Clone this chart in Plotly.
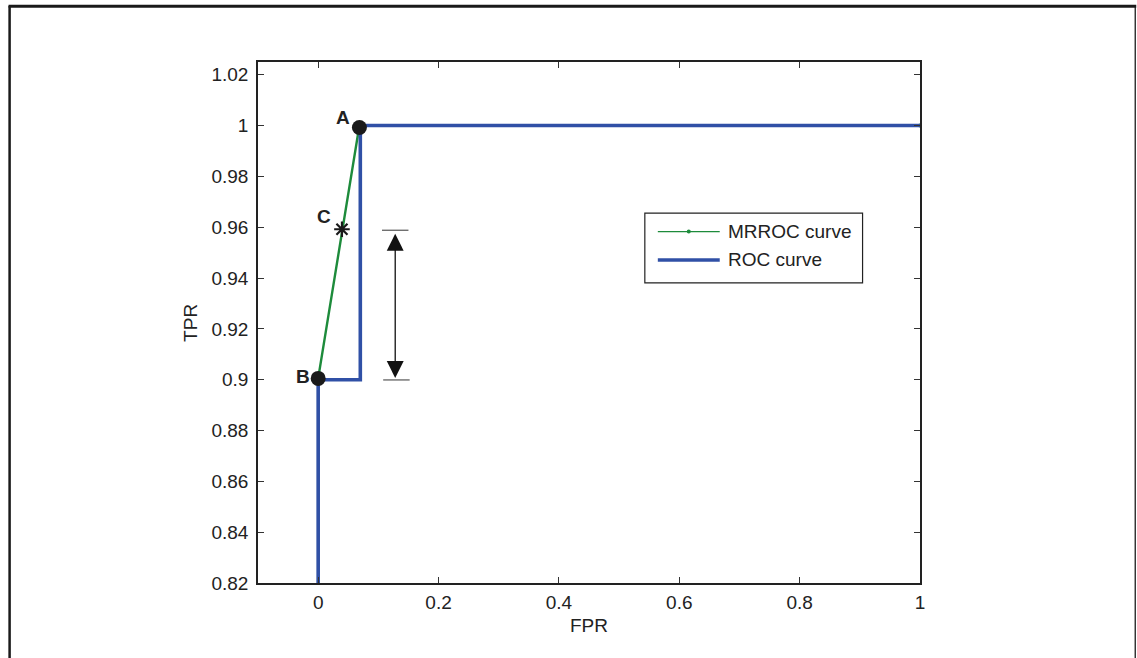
import plotly.graph_objects as go

# ---- data ----
roc_fpr = [0.0, 0.0, 0.07, 0.07, 1.0]
roc_tpr = [0.0, 0.9, 0.9, 1.0, 1.0]

mrroc_fpr = [0.0, 0.0, 0.0685, 1.0]
mrroc_tpr = [0.0, 0.9005, 1.0, 1.0]

point_names = ["A", "B"]
point_fpr = [0.0685, 0.0]
point_tpr = [0.9992, 0.9005]

c_fpr = [0.0395]
c_tpr = [0.9592]

gap_top = 0.9588   # TPR at C
gap_bottom = 0.8999  # TPR at B

x_ticks = [0, 0.2, 0.4, 0.6, 0.8, 1]
x_ticktext = ["0", "0.2", "0.4", "0.6", "0.8", "1"]
y_ticks = [0.82, 0.84, 0.86, 0.88, 0.9, 0.92, 0.94, 0.96, 0.98, 1.0, 1.02]
y_ticktext = ["0.82", "0.84", "0.86", "0.88", "0.9", "0.92", "0.94", "0.96", "0.98", "1", "1.02"]

# ---- layout geometry (pixels) ----
W, H = 1137, 658
PL, PR, PT, PB = 257.7, 920.5, 62.3, 582.7
pw, ph = PR - PL, PB - PT


def px(xp):
    return (xp - PL) / pw


def py(yp):
    return (PB - yp) / ph


FONT = "Liberation Sans, Arial, Helvetica, sans-serif"
TXT = "#222222"
BLUE = "#3050a6"
GREEN = "#1d8b3b"

fig = go.Figure()

fig.add_trace(go.Scatter(
    x=mrroc_fpr, y=mrroc_tpr, mode="lines+markers",
    line=dict(color=GREEN, width=2.4),
    marker=dict(color=GREEN, size=4),
    showlegend=False, hoverinfo="skip",
))
fig.add_trace(go.Scatter(
    x=roc_fpr, y=roc_tpr, mode="lines",
    line=dict(color=BLUE, width=3.6),
    showlegend=False, hoverinfo="skip",
))
fig.add_trace(go.Scatter(
    x=point_fpr, y=point_tpr, mode="markers",
    marker=dict(color="#1a1a1a", size=15),
    showlegend=False, hoverinfo="skip",
))
fig.add_trace(go.Scatter(
    x=c_fpr, y=c_tpr, mode="markers",
    marker=dict(symbol="asterisk-open", color="#1a1a1a", size=13,
                line=dict(color="#1a1a1a", width=2.2)),
    showlegend=False, hoverinfo="skip",
))

annotations = []
# point labels
label_pos = {"A": (0.041, 1.0032), "B": (-0.026, 0.9012), "C": (0.010, 0.9642)}
for name, (lx, ly) in label_pos.items():
    annotations.append(dict(
        x=lx, y=ly, xref="x", yref="y", text="<b>%s</b>" % name,
        showarrow=False, font=dict(family=FONT, size=19, color=TXT),
        xanchor="center", yanchor="middle",
    ))

# double-headed arrow showing the TPR gap
arrow_x = 0.128
annotations.append(dict(
    x=arrow_x, y=gap_bottom, ax=arrow_x, ay=gap_top,
    xref="x", yref="y", axref="x", ayref="y",
    text="", showarrow=True, arrowside="end+start",
    arrowhead=2, startarrowhead=2, arrowsize=2.6, startarrowsize=2.6,
    arrowwidth=1.3, arrowcolor="#111111",
    standoff=2, startstandoff=2,
))

# axis titles
annotations.append(dict(
    x=0.5, y=py(625), xref="paper", yref="paper", text="FPR",
    showarrow=False, font=dict(family=FONT, size=19, color=TXT),
    xanchor="center", yanchor="middle",
))
annotations.append(dict(
    x=px(190), y=0.5, xref="paper", yref="paper", text="TPR",
    textangle=-90, showarrow=False, font=dict(family=FONT, size=19, color=TXT),
    xanchor="center", yanchor="middle",
))

# legend (drawn by hand)
leg_x0, leg_x1 = px(645), px(863)
leg_y0, leg_y1 = py(283), py(213.3)
row1, row2 = py(231.7), py(260)
samp_x0, samp_x1 = px(658), px(720)
annotations.append(dict(
    x=px(726), y=row1, xref="paper", yref="paper", text="MRROC curve",
    showarrow=False, font=dict(family=FONT, size=19, color=TXT),
    xanchor="left", yanchor="middle",
))
annotations.append(dict(
    x=px(726), y=row2, xref="paper", yref="paper", text="ROC curve",
    showarrow=False, font=dict(family=FONT, size=19, color=TXT),
    xanchor="left", yanchor="middle",
))

frame = "#1a1a1a"
shapes = [
    # outer frame (open at the bottom)
    dict(type="line", xref="paper", yref="paper", x0=px(8), x1=px(1137), y0=py(6.5), y1=py(6.5),
         line=dict(color=frame, width=3), layer="above"),
    dict(type="line", xref="paper", yref="paper", x0=px(9), x1=px(9), y0=py(6), y1=py(662),
         line=dict(color=frame, width=2.5), layer="above"),
    dict(type="line", xref="paper", yref="paper", x0=px(1136), x1=px(1136), y0=py(6), y1=py(662),
         line=dict(color=frame, width=1.3), layer="above"),
    # gap caps
    dict(type="line", xref="x", yref="y", x0=0.106, x1=0.150, y0=gap_top, y1=gap_top,
         line=dict(color="#555555", width=1.2)),
    dict(type="line", xref="x", yref="y", x0=0.108, x1=0.152, y0=gap_bottom, y1=gap_bottom,
         line=dict(color="#555555", width=1.2)),
    # legend box and samples
    dict(type="rect", xref="paper", yref="paper", x0=leg_x0, x1=leg_x1, y0=leg_y0, y1=leg_y1,
         line=dict(color="#222222", width=1.2), fillcolor="white", layer="above"),
    dict(type="line", xref="paper", yref="paper", x0=samp_x0, x1=samp_x1, y0=row1, y1=row1,
         line=dict(color=GREEN, width=1.2), layer="above"),
    dict(type="circle", xref="paper", yref="paper", xsizemode="pixel", ysizemode="pixel",
         xanchor=(samp_x0 + samp_x1) / 2, yanchor=row1, x0=-2, x1=2, y0=-2, y1=2,
         line=dict(width=0), fillcolor=GREEN, layer="above"),
    dict(type="line", xref="paper", yref="paper", x0=samp_x0, x1=samp_x1, y0=row2, y1=row2,
         line=dict(color=BLUE, width=3.6), layer="above"),
]

axis_common = dict(
    showgrid=False, zeroline=False, showline=True, linecolor="#222222", linewidth=1.5,
    mirror="ticks", ticks="inside", ticklen=6, tickwidth=1, tickcolor="#333333",
    tickfont=dict(family=FONT, size=19, color=TXT),
)

fig.update_layout(
    width=W, height=H,
    margin=dict(l=PL, r=W - PR, t=PT, b=H - PB, autoexpand=False),
    paper_bgcolor="white", plot_bgcolor="white",
    xaxis=dict(range=[-0.1, 1.0], tickvals=x_ticks, ticktext=x_ticktext,
               ticklabelstandoff=1, **axis_common),
    yaxis=dict(range=[0.82, 1.025], tickvals=y_ticks, ticktext=y_ticktext,
               ticklabelstandoff=4, **axis_common),
    annotations=annotations, shapes=shapes, showlegend=False,
)

fig.write_html("out.html")
